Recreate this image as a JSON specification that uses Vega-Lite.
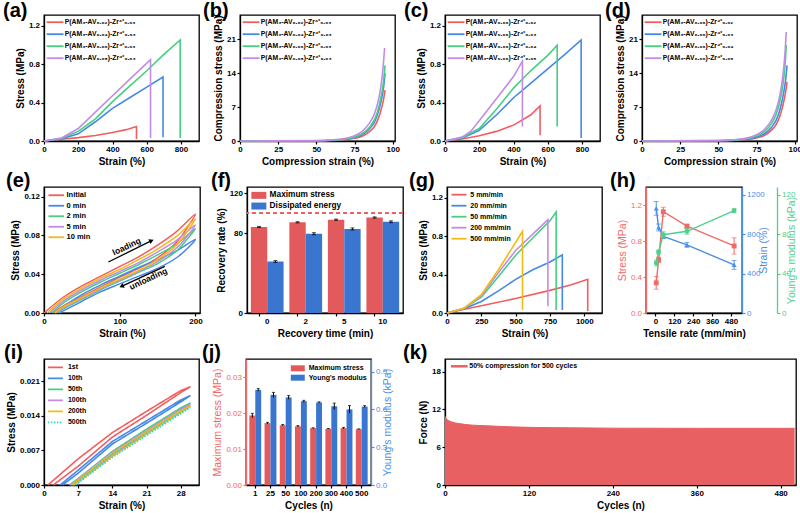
{
"$schema":"https://vega.github.io/schema/vega-lite/v6.json",
"background":"white",
"padding":{"left":2,"top":0,"right":0,"bottom":0},
"autosize":{"type":"pad"},
"bounds":"full",
"spacing":2,
"resolve":{"scale":{"color":"independent","strokeDash":"independent","x":"independent","y":"independent","xOffset":"independent"},"legend":{"color":"independent","strokeDash":"independent"}},
"config":{
 "font":"Liberation Sans",
 "view":{"stroke":"#000","strokeWidth":1.3},
 "axis":{"grid":false,"domainColor":"#000","domainWidth":1.3,"tickColor":"#000","tickWidth":1.2,"tickSize":3,"labelFontSize":8,"labelFontWeight":"bold","labelColor":"#000","labelPadding":1.5,"titleFontSize":10,"titleFontWeight":"bold","titleColor":"#000","titlePadding":3,"labelFlush":false,"labelOverlap":false},
 "legend":{"labelFontWeight":"bold","labelColor":"#000","padding":0,"orient":"none","labelLimit":300,"symbolStrokeWidth":1.8},
 "title":{"fontSize":20,"fontWeight":"bold","anchor":"start","frame":"group","offset":0,"baseline":"alphabetic","dy":8,"color":"#000"}
},
"vconcat":[
{"hconcat":[
{"width":155,"height":126,"title":{"text":"(a)","dx":-41,"dy":10},
 "data":{"values":[
  {"s":"P(AM₃-AV₀.₀₂)-Zr⁴⁺₀.₀₃","x":0,"y":0,"i":0},{"s":"P(AM₃-AV₀.₀₂)-Zr⁴⁺₀.₀₃","x":100,"y":0.018,"i":1},{"s":"P(AM₃-AV₀.₀₂)-Zr⁴⁺₀.₀₃","x":200,"y":0.035,"i":2},{"s":"P(AM₃-AV₀.₀₂)-Zr⁴⁺₀.₀₃","x":300,"y":0.058,"i":3},{"s":"P(AM₃-AV₀.₀₂)-Zr⁴⁺₀.₀₃","x":400,"y":0.088,"i":4},{"s":"P(AM₃-AV₀.₀₂)-Zr⁴⁺₀.₀₃","x":480,"y":0.118,"i":5},{"s":"P(AM₃-AV₀.₀₂)-Zr⁴⁺₀.₀₃","x":540,"y":0.15,"i":6},{"s":"P(AM₃-AV₀.₀₂)-Zr⁴⁺₀.₀₃","x":540,"y":0.02,"i":7},
  {"s":"P(AM₃-AV₀.₀₄)-Zr⁴⁺₀.₀₃","x":0,"y":0,"i":0},{"s":"P(AM₃-AV₀.₀₄)-Zr⁴⁺₀.₀₃","x":100,"y":0.02,"i":1},{"s":"P(AM₃-AV₀.₀₄)-Zr⁴⁺₀.₀₃","x":200,"y":0.075,"i":2},{"s":"P(AM₃-AV₀.₀₄)-Zr⁴⁺₀.₀₃","x":300,"y":0.2,"i":3},{"s":"P(AM₃-AV₀.₀₄)-Zr⁴⁺₀.₀₃","x":400,"y":0.34,"i":4},{"s":"P(AM₃-AV₀.₀₄)-Zr⁴⁺₀.₀₃","x":500,"y":0.45,"i":5},{"s":"P(AM₃-AV₀.₀₄)-Zr⁴⁺₀.₀₃","x":600,"y":0.56,"i":6},{"s":"P(AM₃-AV₀.₀₄)-Zr⁴⁺₀.₀₃","x":695,"y":0.665,"i":7},{"s":"P(AM₃-AV₀.₀₄)-Zr⁴⁺₀.₀₃","x":695,"y":0.04,"i":8},
  {"s":"P(AM₃-AV₀.₀₆)-Zr⁴⁺₀.₀₃","x":0,"y":0,"i":0},{"s":"P(AM₃-AV₀.₀₆)-Zr⁴⁺₀.₀₃","x":100,"y":0.025,"i":1},{"s":"P(AM₃-AV₀.₀₆)-Zr⁴⁺₀.₀₃","x":200,"y":0.1,"i":2},{"s":"P(AM₃-AV₀.₀₆)-Zr⁴⁺₀.₀₃","x":300,"y":0.23,"i":3},{"s":"P(AM₃-AV₀.₀₆)-Zr⁴⁺₀.₀₃","x":400,"y":0.41,"i":4},{"s":"P(AM₃-AV₀.₀₆)-Zr⁴⁺₀.₀₃","x":500,"y":0.57,"i":5},{"s":"P(AM₃-AV₀.₀₆)-Zr⁴⁺₀.₀₃","x":600,"y":0.73,"i":6},{"s":"P(AM₃-AV₀.₀₆)-Zr⁴⁺₀.₀₃","x":700,"y":0.9,"i":7},{"s":"P(AM₃-AV₀.₀₆)-Zr⁴⁺₀.₀₃","x":795,"y":1.05,"i":8},{"s":"P(AM₃-AV₀.₀₆)-Zr⁴⁺₀.₀₃","x":795,"y":0.03,"i":9},
  {"s":"P(AM₃-AV₀.₀₈)-Zr⁴⁺₀.₀₃","x":0,"y":0,"i":0},{"s":"P(AM₃-AV₀.₀₈)-Zr⁴⁺₀.₀₃","x":100,"y":0.03,"i":1},{"s":"P(AM₃-AV₀.₀₈)-Zr⁴⁺₀.₀₃","x":200,"y":0.13,"i":2},{"s":"P(AM₃-AV₀.₀₈)-Zr⁴⁺₀.₀₃","x":300,"y":0.3,"i":3},{"s":"P(AM₃-AV₀.₀₈)-Zr⁴⁺₀.₀₃","x":400,"y":0.47,"i":4},{"s":"P(AM₃-AV₀.₀₈)-Zr⁴⁺₀.₀₃","x":500,"y":0.64,"i":5},{"s":"P(AM₃-AV₀.₀₈)-Zr⁴⁺₀.₀₃","x":622,"y":0.845,"i":6},{"s":"P(AM₃-AV₀.₀₈)-Zr⁴⁺₀.₀₃","x":622,"y":0.03,"i":7}
 ]},
 "mark":{"type":"line","strokeWidth":1.6},
 "encoding":{
  "x":{"field":"x","type":"quantitative","scale":{"domain":[0,905],"nice":false},"axis":{"values":[0,200,400,600,800],"title":"Strain (%)"}},
  "y":{"field":"y","type":"quantitative","scale":{"domain":[0,1.31],"nice":false},"axis":{"values":[0,0.4,0.8,1.2],"format":".1f","title":"Stress (MPa)"}},
  "color":{"field":"s","type":"nominal","scale":{"domain":["P(AM₃-AV₀.₀₂)-Zr⁴⁺₀.₀₃","P(AM₃-AV₀.₀₄)-Zr⁴⁺₀.₀₃","P(AM₃-AV₀.₀₆)-Zr⁴⁺₀.₀₃","P(AM₃-AV₀.₀₈)-Zr⁴⁺₀.₀₃"],"range":["#f25e5e","#4589e6","#45cf80","#c28be8"]},"legend":{"title":null,"legendX":7.7,"legendY":3.8,"labelFontSize":6.8,"symbolType":"M-4.2,0H4.2","symbolSize":16,"labelOffset":6.3,"rowPadding":3}},
  "order":{"field":"i","type":"quantitative"}
 }},
{"width":40.7,"height":126,"view":{"stroke":null},"data":{"values":[{}]},"mark":{"type":"point","opacity":0},"encoding":{}},
{"width":155,"height":126,"title":{"text":"(b)","dx":-37,"dy":10},
 "data":{"values":[
  {"s":"P(AM₃-AV₀.₀₂)-Zr⁴⁺₀.₀₃","x":0,"y":0},{"s":"P(AM₃-AV₀.₀₂)-Zr⁴⁺₀.₀₃","x":50,"y":0.04},{"s":"P(AM₃-AV₀.₀₂)-Zr⁴⁺₀.₀₃","x":60,"y":0.1},{"s":"P(AM₃-AV₀.₀₂)-Zr⁴⁺₀.₀₃","x":70,"y":0.3},{"s":"P(AM₃-AV₀.₀₂)-Zr⁴⁺₀.₀₃","x":75,"y":0.55},{"s":"P(AM₃-AV₀.₀₂)-Zr⁴⁺₀.₀₃","x":80,"y":1.0},{"s":"P(AM₃-AV₀.₀₂)-Zr⁴⁺₀.₀₃","x":85,"y":2.0},{"s":"P(AM₃-AV₀.₀₂)-Zr⁴⁺₀.₀₃","x":88,"y":3.0},{"s":"P(AM₃-AV₀.₀₂)-Zr⁴⁺₀.₀₃","x":90,"y":4.2},{"s":"P(AM₃-AV₀.₀₂)-Zr⁴⁺₀.₀₃","x":92,"y":6.0},{"s":"P(AM₃-AV₀.₀₂)-Zr⁴⁺₀.₀₃","x":94,"y":8.6},{"s":"P(AM₃-AV₀.₀₂)-Zr⁴⁺₀.₀₃","x":95,"y":10.5},
  {"s":"P(AM₃-AV₀.₀₄)-Zr⁴⁺₀.₀₃","x":0,"y":0},{"s":"P(AM₃-AV₀.₀₄)-Zr⁴⁺₀.₀₃","x":50,"y":0.05},{"s":"P(AM₃-AV₀.₀₄)-Zr⁴⁺₀.₀₃","x":60,"y":0.14},{"s":"P(AM₃-AV₀.₀₄)-Zr⁴⁺₀.₀₃","x":70,"y":0.4},{"s":"P(AM₃-AV₀.₀₄)-Zr⁴⁺₀.₀₃","x":75,"y":0.75},{"s":"P(AM₃-AV₀.₀₄)-Zr⁴⁺₀.₀₃","x":80,"y":1.3},{"s":"P(AM₃-AV₀.₀₄)-Zr⁴⁺₀.₀₃","x":85,"y":2.6},{"s":"P(AM₃-AV₀.₀₄)-Zr⁴⁺₀.₀₃","x":88,"y":3.9},{"s":"P(AM₃-AV₀.₀₄)-Zr⁴⁺₀.₀₃","x":90,"y":5.4},{"s":"P(AM₃-AV₀.₀₄)-Zr⁴⁺₀.₀₃","x":92,"y":7.7},{"s":"P(AM₃-AV₀.₀₄)-Zr⁴⁺₀.₀₃","x":94,"y":11},{"s":"P(AM₃-AV₀.₀₄)-Zr⁴⁺₀.₀₃","x":95,"y":14},
  {"s":"P(AM₃-AV₀.₀₆)-Zr⁴⁺₀.₀₃","x":0,"y":0},{"s":"P(AM₃-AV₀.₀₆)-Zr⁴⁺₀.₀₃","x":50,"y":0.06},{"s":"P(AM₃-AV₀.₀₆)-Zr⁴⁺₀.₀₃","x":60,"y":0.16},{"s":"P(AM₃-AV₀.₀₆)-Zr⁴⁺₀.₀₃","x":70,"y":0.45},{"s":"P(AM₃-AV₀.₀₆)-Zr⁴⁺₀.₀₃","x":75,"y":0.85},{"s":"P(AM₃-AV₀.₀₆)-Zr⁴⁺₀.₀₃","x":80,"y":1.5},{"s":"P(AM₃-AV₀.₀₆)-Zr⁴⁺₀.₀₃","x":85,"y":2.9},{"s":"P(AM₃-AV₀.₀₆)-Zr⁴⁺₀.₀₃","x":88,"y":4.4},{"s":"P(AM₃-AV₀.₀₆)-Zr⁴⁺₀.₀₃","x":90,"y":6},{"s":"P(AM₃-AV₀.₀₆)-Zr⁴⁺₀.₀₃","x":92,"y":8.6},{"s":"P(AM₃-AV₀.₀₆)-Zr⁴⁺₀.₀₃","x":94,"y":12.3},{"s":"P(AM₃-AV₀.₀₆)-Zr⁴⁺₀.₀₃","x":95,"y":15.6},
  {"s":"P(AM₃-AV₀.₀₈)-Zr⁴⁺₀.₀₃","x":0,"y":0},{"s":"P(AM₃-AV₀.₀₈)-Zr⁴⁺₀.₀₃","x":50,"y":0.08},{"s":"P(AM₃-AV₀.₀₈)-Zr⁴⁺₀.₀₃","x":60,"y":0.22},{"s":"P(AM₃-AV₀.₀₈)-Zr⁴⁺₀.₀₃","x":70,"y":0.6},{"s":"P(AM₃-AV₀.₀₈)-Zr⁴⁺₀.₀₃","x":75,"y":1.1},{"s":"P(AM₃-AV₀.₀₈)-Zr⁴⁺₀.₀₃","x":80,"y":2.0},{"s":"P(AM₃-AV₀.₀₈)-Zr⁴⁺₀.₀₃","x":85,"y":3.8},{"s":"P(AM₃-AV₀.₀₈)-Zr⁴⁺₀.₀₃","x":88,"y":5.6},{"s":"P(AM₃-AV₀.₀₈)-Zr⁴⁺₀.₀₃","x":90,"y":7.6},{"s":"P(AM₃-AV₀.₀₈)-Zr⁴⁺₀.₀₃","x":92,"y":10.7},{"s":"P(AM₃-AV₀.₀₈)-Zr⁴⁺₀.₀₃","x":93.5,"y":14.5},{"s":"P(AM₃-AV₀.₀₈)-Zr⁴⁺₀.₀₃","x":94.7,"y":19.2}
 ]},
 "mark":{"type":"line","strokeWidth":1.6,"interpolate":"monotone"},
 "encoding":{
  "x":{"field":"x","type":"quantitative","scale":{"domain":[0,101.5],"nice":false},"axis":{"values":[0,25,50,75,100],"title":"Compression strain (%)"}},
  "y":{"field":"y","type":"quantitative","scale":{"domain":[0,26],"nice":false},"axis":{"values":[0,7,14,21],"title":"Compression stress (MPa)"}},
  "color":{"field":"s","type":"nominal","scale":{"domain":["P(AM₃-AV₀.₀₂)-Zr⁴⁺₀.₀₃","P(AM₃-AV₀.₀₄)-Zr⁴⁺₀.₀₃","P(AM₃-AV₀.₀₆)-Zr⁴⁺₀.₀₃","P(AM₃-AV₀.₀₈)-Zr⁴⁺₀.₀₃"],"range":["#f25e5e","#4589e6","#45cf80","#c28be8"]},"legend":{"title":null,"legendX":7.7,"legendY":3.8,"labelFontSize":6.8,"symbolType":"M-4.2,0H4.2","symbolSize":16,"labelOffset":6.3,"rowPadding":3}}
 }},
{"width":49.3,"height":126,"view":{"stroke":null},"data":{"values":[{}]},"mark":{"type":"point","opacity":0},"encoding":{}},
{"width":155,"height":126,"title":{"text":"(c)","dx":-41,"dy":10},
 "data":{"values":[
  {"s":"P(AM₃-AV₀.₀₆)-Zr⁴⁺₀.₀₂","x":0,"y":0,"i":0},{"s":"P(AM₃-AV₀.₀₆)-Zr⁴⁺₀.₀₂","x":100,"y":0.02,"i":1},{"s":"P(AM₃-AV₀.₀₆)-Zr⁴⁺₀.₀₂","x":200,"y":0.055,"i":2},{"s":"P(AM₃-AV₀.₀₆)-Zr⁴⁺₀.₀₂","x":300,"y":0.1,"i":3},{"s":"P(AM₃-AV₀.₀₆)-Zr⁴⁺₀.₀₂","x":400,"y":0.165,"i":4},{"s":"P(AM₃-AV₀.₀₆)-Zr⁴⁺₀.₀₂","x":500,"y":0.27,"i":5},{"s":"P(AM₃-AV₀.₀₆)-Zr⁴⁺₀.₀₂","x":555,"y":0.365,"i":6},{"s":"P(AM₃-AV₀.₀₆)-Zr⁴⁺₀.₀₂","x":555,"y":0.06,"i":7},
  {"s":"P(AM₃-AV₀.₀₆)-Zr⁴⁺₀.₀₃","x":0,"y":0,"i":0},{"s":"P(AM₃-AV₀.₀₆)-Zr⁴⁺₀.₀₃","x":100,"y":0.03,"i":1},{"s":"P(AM₃-AV₀.₀₆)-Zr⁴⁺₀.₀₃","x":200,"y":0.11,"i":2},{"s":"P(AM₃-AV₀.₀₆)-Zr⁴⁺₀.₀₃","x":300,"y":0.27,"i":3},{"s":"P(AM₃-AV₀.₀₆)-Zr⁴⁺₀.₀₃","x":400,"y":0.45,"i":4},{"s":"P(AM₃-AV₀.₀₆)-Zr⁴⁺₀.₀₃","x":500,"y":0.6,"i":5},{"s":"P(AM₃-AV₀.₀₆)-Zr⁴⁺₀.₀₃","x":600,"y":0.75,"i":6},{"s":"P(AM₃-AV₀.₀₆)-Zr⁴⁺₀.₀₃","x":700,"y":0.9,"i":7},{"s":"P(AM₃-AV₀.₀₆)-Zr⁴⁺₀.₀₃","x":795,"y":1.05,"i":8},{"s":"P(AM₃-AV₀.₀₆)-Zr⁴⁺₀.₀₃","x":795,"y":0.03,"i":9},
  {"s":"P(AM₃-AV₀.₀₆)-Zr⁴⁺₀.₀₄","x":0,"y":0,"i":0},{"s":"P(AM₃-AV₀.₀₆)-Zr⁴⁺₀.₀₄","x":100,"y":0.035,"i":1},{"s":"P(AM₃-AV₀.₀₆)-Zr⁴⁺₀.₀₄","x":200,"y":0.13,"i":2},{"s":"P(AM₃-AV₀.₀₆)-Zr⁴⁺₀.₀₄","x":300,"y":0.33,"i":3},{"s":"P(AM₃-AV₀.₀₆)-Zr⁴⁺₀.₀₄","x":400,"y":0.55,"i":4},{"s":"P(AM₃-AV₀.₀₆)-Zr⁴⁺₀.₀₄","x":500,"y":0.73,"i":5},{"s":"P(AM₃-AV₀.₀₆)-Zr⁴⁺₀.₀₄","x":600,"y":0.89,"i":6},{"s":"P(AM₃-AV₀.₀₆)-Zr⁴⁺₀.₀₄","x":655,"y":0.995,"i":7},{"s":"P(AM₃-AV₀.₀₆)-Zr⁴⁺₀.₀₄","x":655,"y":0.15,"i":8},
  {"s":"P(AM₃-AV₀.₀₆)-Zr⁴⁺₀.₀₅","x":0,"y":0,"i":0},{"s":"P(AM₃-AV₀.₀₆)-Zr⁴⁺₀.₀₅","x":100,"y":0.04,"i":1},{"s":"P(AM₃-AV₀.₀₆)-Zr⁴⁺₀.₀₅","x":150,"y":0.1,"i":2},{"s":"P(AM₃-AV₀.₀₆)-Zr⁴⁺₀.₀₅","x":200,"y":0.21,"i":3},{"s":"P(AM₃-AV₀.₀₆)-Zr⁴⁺₀.₀₅","x":300,"y":0.44,"i":4},{"s":"P(AM₃-AV₀.₀₆)-Zr⁴⁺₀.₀₅","x":400,"y":0.67,"i":5},{"s":"P(AM₃-AV₀.₀₆)-Zr⁴⁺₀.₀₅","x":452,"y":0.83,"i":6},{"s":"P(AM₃-AV₀.₀₆)-Zr⁴⁺₀.₀₅","x":452,"y":0.15,"i":7}
 ]},
 "mark":{"type":"line","strokeWidth":1.6},
 "encoding":{
  "x":{"field":"x","type":"quantitative","scale":{"domain":[0,905],"nice":false},"axis":{"values":[0,200,400,600,800],"title":"Strain (%)"}},
  "y":{"field":"y","type":"quantitative","scale":{"domain":[0,1.31],"nice":false},"axis":{"values":[0,0.4,0.8,1.2],"format":".1f","title":"Stress (MPa)"}},
  "color":{"field":"s","type":"nominal","scale":{"domain":["P(AM₃-AV₀.₀₆)-Zr⁴⁺₀.₀₂","P(AM₃-AV₀.₀₆)-Zr⁴⁺₀.₀₃","P(AM₃-AV₀.₀₆)-Zr⁴⁺₀.₀₄","P(AM₃-AV₀.₀₆)-Zr⁴⁺₀.₀₅"],"range":["#f25e5e","#4589e6","#45cf80","#c28be8"]},"legend":{"title":null,"legendX":7.7,"legendY":3.8,"labelFontSize":6.8,"symbolType":"M-4.2,0H4.2","symbolSize":16,"labelOffset":6.3,"rowPadding":3}},
  "order":{"field":"i","type":"quantitative"}
 }},
{"width":41.7,"height":126,"view":{"stroke":null},"data":{"values":[{}]},"mark":{"type":"point","opacity":0},"encoding":{}},
{"width":155,"height":126,"title":{"text":"(d)","dx":-37,"dy":10},
 "data":{"values":[
  {"s":"P(AM₃-AV₀.₀₆)-Zr⁴⁺₀.₀₂","x":0,"y":0},{"s":"P(AM₃-AV₀.₀₆)-Zr⁴⁺₀.₀₂","x":50,"y":0.04},{"s":"P(AM₃-AV₀.₀₆)-Zr⁴⁺₀.₀₂","x":60,"y":0.12},{"s":"P(AM₃-AV₀.₀₆)-Zr⁴⁺₀.₀₂","x":70,"y":0.35},{"s":"P(AM₃-AV₀.₀₆)-Zr⁴⁺₀.₀₂","x":75,"y":0.65},{"s":"P(AM₃-AV₀.₀₆)-Zr⁴⁺₀.₀₂","x":80,"y":1.15},{"s":"P(AM₃-AV₀.₀₆)-Zr⁴⁺₀.₀₂","x":85,"y":2.3},{"s":"P(AM₃-AV₀.₀₆)-Zr⁴⁺₀.₀₂","x":88,"y":3.5},{"s":"P(AM₃-AV₀.₀₆)-Zr⁴⁺₀.₀₂","x":90,"y":4.9},{"s":"P(AM₃-AV₀.₀₆)-Zr⁴⁺₀.₀₂","x":92,"y":7},{"s":"P(AM₃-AV₀.₀₆)-Zr⁴⁺₀.₀₂","x":94,"y":10},{"s":"P(AM₃-AV₀.₀₆)-Zr⁴⁺₀.₀₂","x":95,"y":12.2},
  {"s":"P(AM₃-AV₀.₀₆)-Zr⁴⁺₀.₀₃","x":0,"y":0},{"s":"P(AM₃-AV₀.₀₆)-Zr⁴⁺₀.₀₃","x":50,"y":0.05},{"s":"P(AM₃-AV₀.₀₆)-Zr⁴⁺₀.₀₃","x":60,"y":0.15},{"s":"P(AM₃-AV₀.₀₆)-Zr⁴⁺₀.₀₃","x":70,"y":0.45},{"s":"P(AM₃-AV₀.₀₆)-Zr⁴⁺₀.₀₃","x":75,"y":0.8},{"s":"P(AM₃-AV₀.₀₆)-Zr⁴⁺₀.₀₃","x":80,"y":1.45},{"s":"P(AM₃-AV₀.₀₆)-Zr⁴⁺₀.₀₃","x":85,"y":2.9},{"s":"P(AM₃-AV₀.₀₆)-Zr⁴⁺₀.₀₃","x":88,"y":4.4},{"s":"P(AM₃-AV₀.₀₆)-Zr⁴⁺₀.₀₃","x":90,"y":6.1},{"s":"P(AM₃-AV₀.₀₆)-Zr⁴⁺₀.₀₃","x":92,"y":8.7},{"s":"P(AM₃-AV₀.₀₆)-Zr⁴⁺₀.₀₃","x":94,"y":12.5},{"s":"P(AM₃-AV₀.₀₆)-Zr⁴⁺₀.₀₃","x":95,"y":15.6},
  {"s":"P(AM₃-AV₀.₀₆)-Zr⁴⁺₀.₀₄","x":0,"y":0},{"s":"P(AM₃-AV₀.₀₆)-Zr⁴⁺₀.₀₄","x":50,"y":0.07},{"s":"P(AM₃-AV₀.₀₆)-Zr⁴⁺₀.₀₄","x":60,"y":0.2},{"s":"P(AM₃-AV₀.₀₆)-Zr⁴⁺₀.₀₄","x":70,"y":0.58},{"s":"P(AM₃-AV₀.₀₆)-Zr⁴⁺₀.₀₄","x":75,"y":1.05},{"s":"P(AM₃-AV₀.₀₆)-Zr⁴⁺₀.₀₄","x":80,"y":1.9},{"s":"P(AM₃-AV₀.₀₆)-Zr⁴⁺₀.₀₄","x":85,"y":3.7},{"s":"P(AM₃-AV₀.₀₆)-Zr⁴⁺₀.₀₄","x":88,"y":5.6},{"s":"P(AM₃-AV₀.₀₆)-Zr⁴⁺₀.₀₄","x":90,"y":7.8},{"s":"P(AM₃-AV₀.₀₆)-Zr⁴⁺₀.₀₄","x":92,"y":11},{"s":"P(AM₃-AV₀.₀₆)-Zr⁴⁺₀.₀₄","x":93.5,"y":15},{"s":"P(AM₃-AV₀.₀₆)-Zr⁴⁺₀.₀₄","x":94.5,"y":19.8},
  {"s":"P(AM₃-AV₀.₀₆)-Zr⁴⁺₀.₀₅","x":0,"y":0},{"s":"P(AM₃-AV₀.₀₆)-Zr⁴⁺₀.₀₅","x":50,"y":0.09},{"s":"P(AM₃-AV₀.₀₆)-Zr⁴⁺₀.₀₅","x":60,"y":0.25},{"s":"P(AM₃-AV₀.₀₆)-Zr⁴⁺₀.₀₅","x":70,"y":0.7},{"s":"P(AM₃-AV₀.₀₆)-Zr⁴⁺₀.₀₅","x":75,"y":1.3},{"s":"P(AM₃-AV₀.₀₆)-Zr⁴⁺₀.₀₅","x":80,"y":2.3},{"s":"P(AM₃-AV₀.₀₆)-Zr⁴⁺₀.₀₅","x":85,"y":4.4},{"s":"P(AM₃-AV₀.₀₆)-Zr⁴⁺₀.₀₅","x":88,"y":6.6},{"s":"P(AM₃-AV₀.₀₆)-Zr⁴⁺₀.₀₅","x":90,"y":9},{"s":"P(AM₃-AV₀.₀₆)-Zr⁴⁺₀.₀₅","x":92,"y":12.8},{"s":"P(AM₃-AV₀.₀₆)-Zr⁴⁺₀.₀₅","x":93.5,"y":17.5},{"s":"P(AM₃-AV₀.₀₆)-Zr⁴⁺₀.₀₅","x":94.5,"y":22.5}
 ]},
 "mark":{"type":"line","strokeWidth":1.6,"interpolate":"monotone"},
 "encoding":{
  "x":{"field":"x","type":"quantitative","scale":{"domain":[0,101.5],"nice":false},"axis":{"values":[0,25,50,75,100],"title":"Compression strain (%)"}},
  "y":{"field":"y","type":"quantitative","scale":{"domain":[0,26],"nice":false},"axis":{"values":[0,7,14,21],"title":"Compression stress (MPa)"}},
  "color":{"field":"s","type":"nominal","scale":{"domain":["P(AM₃-AV₀.₀₆)-Zr⁴⁺₀.₀₂","P(AM₃-AV₀.₀₆)-Zr⁴⁺₀.₀₃","P(AM₃-AV₀.₀₆)-Zr⁴⁺₀.₀₄","P(AM₃-AV₀.₀₆)-Zr⁴⁺₀.₀₅"],"range":["#f25e5e","#4589e6","#45cf80","#c28be8"]},"legend":{"title":null,"legendX":7.7,"legendY":3.8,"labelFontSize":6.8,"symbolType":"M-4.2,0H4.2","symbolSize":16,"labelOffset":6.3,"rowPadding":3}}
 }}
],"spacing":0,"bounds":"flush","resolve":{"scale":{"color":"independent","x":"independent","y":"independent"},"legend":{"color":"independent"}}},
{"hconcat":[
{"width":156,"height":126,"title":{"text":"(e)","dx":-38},
 "layer":[
 {"data":{"values":[
  {"s":"Initial","x":0,"y":0,"i":0},{"s":"Initial","x":25,"y":0.016,"i":1},{"s":"Initial","x":50,"y":0.028,"i":2},{"s":"Initial","x":75,"y":0.038,"i":3},{"s":"Initial","x":100,"y":0.048,"i":4},{"s":"Initial","x":125,"y":0.058,"i":5},{"s":"Initial","x":150,"y":0.07,"i":6},{"s":"Initial","x":175,"y":0.084,"i":7},{"s":"Initial","x":200,"y":0.102,"i":8},{"s":"Initial","x":190,"y":0.089,"i":9},{"s":"Initial","x":175,"y":0.073,"i":10},{"s":"Initial","x":150,"y":0.057,"i":11},{"s":"Initial","x":125,"y":0.046,"i":12},{"s":"Initial","x":100,"y":0.037,"i":13},{"s":"Initial","x":75,"y":0.027,"i":14},{"s":"Initial","x":50,"y":0.017,"i":15},{"s":"Initial","x":25,"y":0.007,"i":16},{"s":"Initial","x":12,"y":0,"i":17},
  {"s":"0 min","x":15,"y":0,"i":0},{"s":"0 min","x":30,"y":0.009,"i":1},{"s":"0 min","x":50,"y":0.019,"i":2},{"s":"0 min","x":75,"y":0.029,"i":3},{"s":"0 min","x":100,"y":0.038,"i":4},{"s":"0 min","x":125,"y":0.047,"i":5},{"s":"0 min","x":150,"y":0.055,"i":6},{"s":"0 min","x":175,"y":0.064,"i":7},{"s":"0 min","x":200,"y":0.076,"i":8},{"s":"0 min","x":190,"y":0.067,"i":9},{"s":"0 min","x":175,"y":0.057,"i":10},{"s":"0 min","x":150,"y":0.046,"i":11},{"s":"0 min","x":125,"y":0.038,"i":12},{"s":"0 min","x":100,"y":0.03,"i":13},{"s":"0 min","x":75,"y":0.022,"i":14},{"s":"0 min","x":50,"y":0.012,"i":15},{"s":"0 min","x":30,"y":0.004,"i":16},{"s":"0 min","x":20,"y":0,"i":17},
  {"s":"2 min","x":10,"y":0,"i":0},{"s":"2 min","x":25,"y":0.01,"i":1},{"s":"2 min","x":50,"y":0.022,"i":2},{"s":"2 min","x":75,"y":0.032,"i":3},{"s":"2 min","x":100,"y":0.041,"i":4},{"s":"2 min","x":125,"y":0.05,"i":5},{"s":"2 min","x":150,"y":0.06,"i":6},{"s":"2 min","x":175,"y":0.071,"i":7},{"s":"2 min","x":200,"y":0.087,"i":8},{"s":"2 min","x":190,"y":0.077,"i":9},{"s":"2 min","x":175,"y":0.064,"i":10},{"s":"2 min","x":150,"y":0.051,"i":11},{"s":"2 min","x":125,"y":0.042,"i":12},{"s":"2 min","x":100,"y":0.033,"i":13},{"s":"2 min","x":75,"y":0.024,"i":14},{"s":"2 min","x":50,"y":0.014,"i":15},{"s":"2 min","x":25,"y":0.004,"i":16},{"s":"2 min","x":17,"y":0,"i":17},
  {"s":"5 min","x":7,"y":0,"i":0},{"s":"5 min","x":25,"y":0.012,"i":1},{"s":"5 min","x":50,"y":0.024,"i":2},{"s":"5 min","x":75,"y":0.034,"i":3},{"s":"5 min","x":100,"y":0.043,"i":4},{"s":"5 min","x":125,"y":0.052,"i":5},{"s":"5 min","x":150,"y":0.063,"i":6},{"s":"5 min","x":175,"y":0.075,"i":7},{"s":"5 min","x":200,"y":0.091,"i":8},{"s":"5 min","x":190,"y":0.08,"i":9},{"s":"5 min","x":175,"y":0.067,"i":10},{"s":"5 min","x":150,"y":0.053,"i":11},{"s":"5 min","x":125,"y":0.043,"i":12},{"s":"5 min","x":100,"y":0.034,"i":13},{"s":"5 min","x":75,"y":0.025,"i":14},{"s":"5 min","x":50,"y":0.015,"i":15},{"s":"5 min","x":25,"y":0.005,"i":16},{"s":"5 min","x":15,"y":0,"i":17},
  {"s":"10 min","x":4,"y":0,"i":0},{"s":"10 min","x":25,"y":0.014,"i":1},{"s":"10 min","x":50,"y":0.026,"i":2},{"s":"10 min","x":75,"y":0.036,"i":3},{"s":"10 min","x":100,"y":0.045,"i":4},{"s":"10 min","x":125,"y":0.055,"i":5},{"s":"10 min","x":150,"y":0.066,"i":6},{"s":"10 min","x":175,"y":0.079,"i":7},{"s":"10 min","x":200,"y":0.097,"i":8},{"s":"10 min","x":190,"y":0.085,"i":9},{"s":"10 min","x":175,"y":0.07,"i":10},{"s":"10 min","x":150,"y":0.055,"i":11},{"s":"10 min","x":125,"y":0.044,"i":12},{"s":"10 min","x":100,"y":0.035,"i":13},{"s":"10 min","x":75,"y":0.026,"i":14},{"s":"10 min","x":50,"y":0.016,"i":15},{"s":"10 min","x":25,"y":0.006,"i":16},{"s":"10 min","x":14,"y":0,"i":17}
 ]},
 "mark":{"type":"line","strokeWidth":1.5,"interpolate":"catmull-rom"},
 "encoding":{
  "x":{"field":"x","type":"quantitative","scale":{"domain":[0,206],"nice":false},"axis":{"values":[0,50,100,150,200],"title":"Strain (%)"}},
  "y":{"field":"y","type":"quantitative","scale":{"domain":[0,0.13],"nice":false},"axis":{"values":[0,0.04,0.08,0.12],"format":".2f","title":"Stress (MPa)"}},
  "color":{"field":"s","type":"nominal","scale":{"domain":["Initial","0 min","2 min","5 min","10 min"],"range":["#f25e5e","#4589e6","#45cf80","#c28be8","#f5b914"]},"legend":{"title":null,"legendX":8.5,"legendY":4.5,"labelFontSize":7.5,"symbolType":"M-3.9,0H3.9","symbolSize":16,"labelOffset":6.5,"rowPadding":1.5}},
  "order":{"field":"i","type":"quantitative"}
 }},
 {"data":{"values":[{"x":85,"y":0.0526,"x2":142,"y2":0.0746},{"x":159.6,"y":0.0481,"x2":102.4,"y2":0.0275}]},
  "mark":{"type":"rule","color":"#000","strokeWidth":1.3},
  "encoding":{"x":{"field":"x","type":"quantitative"},"y":{"field":"y","type":"quantitative"},"x2":{"field":"x2"},"y2":{"field":"y2"}}},
 {"data":{"values":[{"x":142,"y":0.0746,"sh":"triangle-right"},{"x":102.4,"y":0.0275,"sh":"triangle-left"}]},
  "mark":{"type":"point","filled":true,"color":"#000","size":28,"angle":335,"opacity":1},
  "encoding":{"x":{"field":"x","type":"quantitative"},"y":{"field":"y","type":"quantitative"},"shape":{"field":"sh","type":"nominal","scale":null}}},
 {"data":{"values":[{"x":109,"y":0.0688,"t":"loading"},{"x":137.6,"y":0.0355,"t":"unloading"}]},
  "mark":{"type":"text","angle":335,"fontSize":8.5,"fontWeight":"bold","color":"#000"},
  "encoding":{"x":{"field":"x","type":"quantitative"},"y":{"field":"y","type":"quantitative"},"text":{"field":"t"}}}
 ]},
{"width":46.3,"height":126,"view":{"stroke":null},"data":{"values":[{}]},"mark":{"type":"point","opacity":0},"encoding":{}},
{"width":156,"height":126,"title":{"text":"(f)","dx":-36},
 "data":{"values":[
  {"t":"0","s":"Maximum stress","v":86,"lo":85.4,"hi":86.6},{"t":"2","s":"Maximum stress","v":90.7,"lo":90.1,"hi":91.3},{"t":"5","s":"Maximum stress","v":93.3,"lo":92.7,"hi":93.9},{"t":"10","s":"Maximum stress","v":95.5,"lo":94.9,"hi":96.1},
  {"t":"0","s":"Dissipated energy","v":51.5,"lo":50.6,"hi":52.4},{"t":"2","s":"Dissipated energy","v":79.3,"lo":78.3,"hi":80.3},{"t":"5","s":"Dissipated energy","v":84,"lo":83,"hi":85.1},{"t":"10","s":"Dissipated energy","v":91.2,"lo":90.3,"hi":92.1}
 ]},
 "layer":[
  {"mark":{"type":"bar"},"encoding":{
    "x":{"field":"t","type":"nominal","sort":["0","2","5","10"],"scale":{"paddingInner":0.15,"paddingOuter":0.1},"axis":{"labelAngle":0,"title":"Recovery time (min)","bandPosition":0.25}},
    "xOffset":{"field":"s","type":"nominal","scale":{"domain":["Maximum stress","Dissipated energy"]}},
    "y":{"field":"v","type":"quantitative","scale":{"domain":[0,126],"nice":false},"axis":{"values":[0,40,80,100,120],"title":"Recovery rate (%)","labelColor":{"condition":{"test":"datum.value===100","value":"#f06060"},"value":"#000"},"tickColor":{"condition":{"test":"datum.value===100","value":"#f06060"},"value":"#000"}}},
    "color":{"field":"s","type":"nominal","scale":{"domain":["Maximum stress","Dissipated energy"],"range":["#e25a5c","#3a76cf"]},"legend":{"title":null,"legendX":7.7,"legendY":4.2,"labelFontSize":8.3,"symbolType":"M-2.14,-1H2.14V1H-2.14Z","symbolSize":49,"symbolStrokeWidth":0,"labelOffset":6.6,"rowPadding":1.7}}}},
  {"mark":{"type":"rule","strokeWidth":1,"color":"#000"},"encoding":{
    "x":{"field":"t","type":"nominal","sort":["0","2","5","10"]},
    "xOffset":{"field":"s","type":"nominal","scale":{"domain":["Maximum stress","Dissipated energy"]}},
    "y":{"field":"lo","type":"quantitative"},"y2":{"field":"hi"}}},
  {"mark":{"type":"tick","thickness":1,"size":4,"color":"#000"},"encoding":{
    "x":{"field":"t","type":"nominal","sort":["0","2","5","10"]},
    "xOffset":{"field":"s","type":"nominal","scale":{"domain":["Maximum stress","Dissipated energy"]}},
    "y":{"field":"hi","type":"quantitative"}}},
  {"mark":{"type":"tick","thickness":1,"size":4,"color":"#000"},"encoding":{
    "x":{"field":"t","type":"nominal","sort":["0","2","5","10"]},
    "xOffset":{"field":"s","type":"nominal","scale":{"domain":["Maximum stress","Dissipated energy"]}},
    "y":{"field":"lo","type":"quantitative"}}},
  {"mark":{"type":"rule","color":"#f06060","strokeDash":[4,3],"strokeWidth":1.3},"encoding":{"y":{"datum":100}}}
 ]},
{"width":43.7,"height":126,"view":{"stroke":null},"data":{"values":[{}]},"mark":{"type":"point","opacity":0},"encoding":{}},
{"width":155,"height":126,"title":{"text":"(g)","dx":-38},
 "data":{"values":[
  {"s":"5 mm/min","x":0,"y":0,"i":0},{"s":"5 mm/min","x":250,"y":0.075,"i":1},{"s":"5 mm/min","x":500,"y":0.15,"i":2},{"s":"5 mm/min","x":750,"y":0.235,"i":3},{"s":"5 mm/min","x":900,"y":0.29,"i":4},{"s":"5 mm/min","x":1025,"y":0.35,"i":5},{"s":"5 mm/min","x":1025,"y":0.02,"i":6},
  {"s":"20 mm/min","x":0,"y":0,"i":0},{"s":"20 mm/min","x":125,"y":0.045,"i":1},{"s":"20 mm/min","x":250,"y":0.12,"i":2},{"s":"20 mm/min","x":375,"y":0.23,"i":3},{"s":"20 mm/min","x":500,"y":0.35,"i":4},{"s":"20 mm/min","x":625,"y":0.45,"i":5},{"s":"20 mm/min","x":750,"y":0.53,"i":6},{"s":"20 mm/min","x":840,"y":0.605,"i":7},{"s":"20 mm/min","x":840,"y":0.03,"i":8},
  {"s":"50 mm/min","x":0,"y":0,"i":0},{"s":"50 mm/min","x":125,"y":0.05,"i":1},{"s":"50 mm/min","x":250,"y":0.165,"i":2},{"s":"50 mm/min","x":375,"y":0.38,"i":3},{"s":"50 mm/min","x":500,"y":0.6,"i":4},{"s":"50 mm/min","x":625,"y":0.78,"i":5},{"s":"50 mm/min","x":750,"y":0.96,"i":6},{"s":"50 mm/min","x":795,"y":1.05,"i":7},{"s":"50 mm/min","x":795,"y":0.03,"i":8},
  {"s":"200 mm/min","x":0,"y":0,"i":0},{"s":"200 mm/min","x":125,"y":0.05,"i":1},{"s":"200 mm/min","x":250,"y":0.18,"i":2},{"s":"200 mm/min","x":375,"y":0.42,"i":3},{"s":"200 mm/min","x":500,"y":0.65,"i":4},{"s":"200 mm/min","x":625,"y":0.82,"i":5},{"s":"200 mm/min","x":735,"y":0.97,"i":6},{"s":"200 mm/min","x":735,"y":0.07,"i":7},
  {"s":"500 mm/min","x":0,"y":0,"i":0},{"s":"500 mm/min","x":125,"y":0.05,"i":1},{"s":"500 mm/min","x":250,"y":0.19,"i":2},{"s":"500 mm/min","x":375,"y":0.45,"i":3},{"s":"500 mm/min","x":450,"y":0.62,"i":4},{"s":"500 mm/min","x":550,"y":0.85,"i":5},{"s":"500 mm/min","x":550,"y":0.03,"i":6}
 ]},
 "mark":{"type":"line","strokeWidth":1.6},
 "encoding":{
  "x":{"field":"x","type":"quantitative","scale":{"domain":[0,1129],"nice":false},"axis":{"values":[0,250,500,750,1000],"format":"d","title":"Strain (%)"}},
  "y":{"field":"y","type":"quantitative","scale":{"domain":[0,1.31],"nice":false},"axis":{"values":[0,0.4,0.8,1.2],"format":".1f","title":"Stress (MPa)"}},
  "color":{"field":"s","type":"nominal","scale":{"domain":["5 mm/min","20 mm/min","50 mm/min","200 mm/min","500 mm/min"],"range":["#f25e5e","#4589e6","#45cf80","#c28be8","#f5b914"]},"legend":{"title":null,"legendX":8.5,"legendY":4.2,"labelFontSize":7,"symbolType":"M-3.75,0H3.75","symbolSize":16,"labelOffset":7.8,"rowPadding":2}},
  "order":{"field":"i","type":"quantitative"}
 }},
{"width":43.3,"height":126,"view":{"stroke":null},"data":{"values":[{}]},"mark":{"type":"point","opacity":0},"encoding":{}},
{"width":96,"height":126,"title":{"text":"(h)","dx":-36},
 "data":{"values":[
  {"r":5,"st":0.335,"ste":0.07,"sn":1063,"sne":70,"ym":50.8,"yme":3},
  {"r":20,"st":0.59,"ste":0.03,"sn":869,"sne":35,"ym":62,"yme":2},
  {"r":50,"st":1.125,"ste":0.05,"sn":777,"sne":20,"ym":79.5,"yme":3},
  {"r":200,"st":0.965,"ste":0.02,"sn":692,"sne":25,"ym":83,"yme":3},
  {"r":500,"st":0.745,"ste":0.09,"sn":488,"sne":45,"ym":104,"yme":2}
 ]},
 "encoding":{"x":{"field":"r","type":"quantitative","scale":{"domain":[-60,550],"nice":false},"axis":{"values":[0,120,240,360,480],"title":"Tensile rate (mm/min)"}}},
 "layer":[
  {"encoding":{"y":{"field":"st","type":"quantitative","scale":{"domain":[0,1.4],"nice":false},"axis":{"orient":"left","values":[0,0.4,0.8,1.2],"format":".1f","title":"Stress (MPa)","domainColor":"#f06a6a","tickColor":"#f06a6a","labelColor":"#f06a6a","titleColor":"#f06a6a","labelFontWeight":"normal","titleFontWeight":"normal","titleFontSize":10.5}}},
   "layer":[
    {"mark":{"type":"line","color":"#f06a6a","strokeWidth":1.4}},
    {"mark":{"type":"errorbar","color":"#f06a6a","ticks":true},"encoding":{"yError":{"field":"ste"}}},
    {"mark":{"type":"point","shape":"square","filled":true,"color":"#f06a6a","size":24,"opacity":1}}
   ]},
  {"encoding":{"y":{"field":"sn","type":"quantitative","scale":{"domain":[0,1280],"nice":false},"axis":{"orient":"right","values":[0,400,800,1200],"format":"d","title":"Strain (%)","titleAngle":270,"titlePadding":4,"domainColor":"#4a8fe6","tickColor":"#4a8fe6","labelColor":"#4a8fe6","titleColor":"#4a8fe6","labelFontWeight":"normal","titleFontWeight":"normal","titleFontSize":10.5}}},
   "layer":[
    {"mark":{"type":"line","color":"#4a8fe6","strokeWidth":1.4}},
    {"mark":{"type":"errorbar","color":"#4a8fe6","ticks":true},"encoding":{"yError":{"field":"sne"}}},
    {"mark":{"type":"point","shape":"triangle-up","filled":true,"color":"#4a8fe6","size":24,"opacity":1}}
   ]},
  {"encoding":{"y":{"field":"ym","type":"quantitative","scale":{"domain":[0,128],"nice":false},"axis":{"orient":"right","offset":35,"values":[0,40,80,120],"title":"Young's modulus (kPa)","titleAngle":270,"titlePadding":2,"domainColor":"#4fd08a","tickColor":"#4fd08a","labelColor":"#4fd08a","titleColor":"#4fd08a","labelFontWeight":"normal","titleFontWeight":"normal","titleFontSize":10.5}}},
   "layer":[
    {"mark":{"type":"line","color":"#4fd08a","strokeWidth":1.4}},
    {"mark":{"type":"errorbar","color":"#4fd08a","ticks":true},"encoding":{"yError":{"field":"yme"}}},
    {"mark":{"type":"point","shape":"circle","filled":true,"color":"#4fd08a","size":24,"opacity":1}}
   ]}
 ],
 "resolve":{"scale":{"y":"independent"}}}
],"spacing":0,"bounds":"flush","resolve":{"scale":{"color":"independent","x":"independent","y":"independent","xOffset":"independent"},"legend":{"color":"independent"}}},
{"hconcat":[
{"width":155,"height":126,"title":{"text":"(i)","dx":-40},
 "data":{"values":[
  {"s":"1st","x":1.9,"y":0,"i":0},{"s":"1st","x":7,"y":0.0038,"i":1},{"s":"1st","x":14,"y":0.0097,"i":2},{"s":"1st","x":21,"y":0.0141,"i":3},{"s":"1st","x":28,"y":0.0187,"i":4},{"s":"1st","x":30,"y":0.0199,"i":5},{"s":"1st","x":28,"y":0.0191,"i":6},{"s":"1st","x":21,"y":0.0149,"i":7},{"s":"1st","x":14,"y":0.0106,"i":8},{"s":"1st","x":7,"y":0.0053,"i":9},{"s":"1st","x":0.8,"y":0,"i":10},
  {"s":"10th","x":3.8,"y":0,"i":0},{"s":"10th","x":7,"y":0.0024,"i":1},{"s":"10th","x":14,"y":0.0083,"i":2},{"s":"10th","x":21,"y":0.0125,"i":3},{"s":"10th","x":28,"y":0.0168,"i":4},{"s":"10th","x":30,"y":0.0181,"i":5},{"s":"10th","x":28,"y":0.0172,"i":6},{"s":"10th","x":21,"y":0.013,"i":7},{"s":"10th","x":14,"y":0.0088,"i":8},{"s":"10th","x":7,"y":0.003,"i":9},{"s":"10th","x":3.3,"y":0,"i":10},
  {"s":"50th","x":5.8,"y":0,"i":0},{"s":"50th","x":7,"y":0.0008,"i":1},{"s":"50th","x":14,"y":0.0062,"i":2},{"s":"50th","x":21,"y":0.0107,"i":3},{"s":"50th","x":28,"y":0.0152,"i":4},{"s":"50th","x":30,"y":0.0166,"i":5},{"s":"50th","x":28,"y":0.0156,"i":6},{"s":"50th","x":21,"y":0.0113,"i":7},{"s":"50th","x":14,"y":0.0068,"i":8},{"s":"50th","x":7,"y":0.0013,"i":9},{"s":"50th","x":5.2,"y":0,"i":10},
  {"s":"100th","x":6.0,"y":0,"i":0},{"s":"100th","x":7,"y":0.0007,"i":1},{"s":"100th","x":14,"y":0.006,"i":2},{"s":"100th","x":21,"y":0.0105,"i":3},{"s":"100th","x":28,"y":0.015,"i":4},{"s":"100th","x":30,"y":0.0163,"i":5},{"s":"100th","x":28,"y":0.0153,"i":6},{"s":"100th","x":21,"y":0.011,"i":7},{"s":"100th","x":14,"y":0.0066,"i":8},{"s":"100th","x":7,"y":0.0012,"i":9},{"s":"100th","x":5.4,"y":0,"i":10},
  {"s":"200th","x":6.2,"y":0,"i":0},{"s":"200th","x":7,"y":0.0006,"i":1},{"s":"200th","x":14,"y":0.0058,"i":2},{"s":"200th","x":21,"y":0.0103,"i":3},{"s":"200th","x":28,"y":0.0147,"i":4},{"s":"200th","x":30,"y":0.016,"i":5},{"s":"200th","x":28,"y":0.015,"i":6},{"s":"200th","x":21,"y":0.0108,"i":7},{"s":"200th","x":14,"y":0.0064,"i":8},{"s":"200th","x":7,"y":0.001,"i":9},{"s":"200th","x":5.6,"y":0,"i":10},
  {"s":"500th","x":6.5,"y":0,"i":0},{"s":"500th","x":7,"y":0.0004,"i":1},{"s":"500th","x":14,"y":0.0056,"i":2},{"s":"500th","x":21,"y":0.01,"i":3},{"s":"500th","x":28,"y":0.0144,"i":4},{"s":"500th","x":30,"y":0.0157,"i":5},{"s":"500th","x":28,"y":0.0147,"i":6},{"s":"500th","x":21,"y":0.0105,"i":7},{"s":"500th","x":14,"y":0.0062,"i":8},{"s":"500th","x":7,"y":0.0008,"i":9},{"s":"500th","x":5.9,"y":0,"i":10}
 ]},
 "mark":{"type":"line","strokeWidth":1.6},
 "encoding":{
  "x":{"field":"x","type":"quantitative","scale":{"domain":[0,31.75],"nice":false},"axis":{"values":[0,7,14,21,28],"title":"Strain (%)"}},
  "y":{"field":"y","type":"quantitative","scale":{"domain":[0,0.0255],"nice":false},"axis":{"values":[0,0.007,0.014,0.021],"format":".3f","title":"Stress (MPa)"}},
  "color":{"field":"s","type":"nominal","scale":{"domain":["1st","10th","50th","100th","200th","500th"],"range":["#f25e5e","#4589e6","#45cf80","#c28be8","#f5b914","#2fd5d0"]},"legend":{"title":null,"legendX":7.9,"legendY":4.8,"labelFontSize":7,"symbolType":"M-3.75,0H3.75","symbolSize":16,"labelOffset":9,"rowPadding":2}},
  "strokeDash":{"field":"s","type":"nominal","scale":{"domain":["1st","10th","50th","100th","200th","500th"],"range":[[1,0],[1,0],[1,0],[1,0],[1,0],[1.5,1.5]]},"legend":{"title":null,"legendX":7.9,"legendY":4.8,"labelFontSize":7,"symbolType":"M-3.75,0H3.75","symbolSize":16,"labelOffset":9,"rowPadding":2}},
  "order":{"field":"i","type":"quantitative"}
 }},
{"width":46.7,"height":126,"view":{"stroke":null},"data":{"values":[{}]},"mark":{"type":"point","opacity":0},"encoding":{}},
{"width":125,"height":126,"title":{"text":"(j)","dx":-44},
 "encoding":{
  "x":{"field":"c","type":"nominal","sort":["1","25","50","100","200","300","400","500"],"scale":{"paddingInner":0.22,"paddingOuter":0.22},"axis":{"labelAngle":0,"title":"Cycles (n)"}},
  "xOffset":{"field":"s","type":"nominal","scale":{"domain":["Maximum stress","Young's modulus"]}},
  "color":{"field":"s","type":"nominal","scale":{"domain":["Maximum stress","Young's modulus"],"range":["#e25a5c","#3a76cf"]},"legend":{"title":null,"legendX":48.3,"legendY":5.8,"labelFontSize":7,"symbolType":"M-2.33,-1H2.33V1H-2.33Z","symbolSize":36,"symbolStrokeWidth":0,"labelOffset":7.4,"rowPadding":1.4}}
 },
 "layer":[
  {"data":{"values":[
    {"c":"1","s":"Maximum stress","v":0.0193,"lo":0.0187,"hi":0.0199},{"c":"25","s":"Maximum stress","v":0.0172,"lo":0.017,"hi":0.0174},{"c":"50","s":"Maximum stress","v":0.0166,"lo":0.0164,"hi":0.0168},{"c":"100","s":"Maximum stress","v":0.0163,"lo":0.0161,"hi":0.0165},{"c":"200","s":"Maximum stress","v":0.0158,"lo":0.0157,"hi":0.0159},{"c":"300","s":"Maximum stress","v":0.0156,"lo":0.0155,"hi":0.0157},{"c":"400","s":"Maximum stress","v":0.0158,"lo":0.0156,"hi":0.016},{"c":"500","s":"Maximum stress","v":0.0155,"lo":0.0154,"hi":0.0156}
   ]},
   "encoding":{"y":{"field":"v","type":"quantitative","scale":{"domain":[0,0.035],"nice":false},"axis":{"orient":"left","values":[0,0.01,0.02,0.03],"format":".2f","title":"Maximum stress (MPa)","domainColor":"#f06a6a","tickColor":"#f06a6a","labelColor":"#f06a6a","titleColor":"#f06a6a","labelFontWeight":"normal","titleFontWeight":"normal","titleFontSize":10.5}}},
   "layer":[
    {"mark":{"type":"bar"}},
    {"mark":{"type":"rule","strokeWidth":1},"encoding":{"y":{"field":"lo","type":"quantitative"},"y2":{"field":"hi"},"color":{"value":"#000"}}},
    {"mark":{"type":"tick","thickness":1,"size":3},"encoding":{"y":{"field":"hi","type":"quantitative"},"color":{"value":"#000"}}}
   ]},
  {"data":{"values":[
    {"c":"1","s":"Young's modulus","v":0.755,"lo":0.745,"hi":0.765},{"c":"25","s":"Young's modulus","v":0.715,"lo":0.695,"hi":0.735},{"c":"50","s":"Young's modulus","v":0.695,"lo":0.68,"hi":0.71},{"c":"100","s":"Young's modulus","v":0.665,"lo":0.655,"hi":0.672},{"c":"200","s":"Young's modulus","v":0.655,"lo":0.65,"hi":0.66},{"c":"300","s":"Young's modulus","v":0.625,"lo":0.6,"hi":0.65},{"c":"400","s":"Young's modulus","v":0.6,"lo":0.57,"hi":0.63},{"c":"500","s":"Young's modulus","v":0.622,"lo":0.615,"hi":0.63}
   ]},
   "encoding":{"y":{"field":"v","type":"quantitative","scale":{"domain":[0,1.0],"nice":false},"axis":{"orient":"right","values":[0,0.3,0.6,0.9],"format":".1f","title":"Young's modulus (kPa)","titleAngle":270,"titlePadding":6,"domainColor":"#4a8fe6","tickColor":"#4a8fe6","labelColor":"#4a8fe6","titleColor":"#4a8fe6","labelFontWeight":"normal","titleFontWeight":"normal","titleFontSize":10.5}}},
   "layer":[
    {"mark":{"type":"bar"}},
    {"mark":{"type":"rule","strokeWidth":1},"encoding":{"y":{"field":"lo","type":"quantitative"},"y2":{"field":"hi"},"color":{"value":"#000"}}},
    {"mark":{"type":"tick","thickness":1,"size":3},"encoding":{"y":{"field":"hi","type":"quantitative"},"color":{"value":"#000"}}}
   ]}
 ],
 "resolve":{"scale":{"y":"independent"}}},
{"width":74,"height":126,"view":{"stroke":null},"data":{"values":[{}]},"mark":{"type":"point","opacity":0},"encoding":{}},
{"width":351,"height":126,"title":{"text":"(k)","dx":-42},
 "data":{"values":[
  {"n":0,"f":10.9},{"n":2,"f":10.5},{"n":5,"f":10.25},{"n":10,"f":10.0},{"n":20,"f":9.75},{"n":40,"f":9.5},{"n":60,"f":9.4},{"n":90,"f":9.25},{"n":120,"f":9.15},{"n":180,"f":9.08},{"n":240,"f":9.02},{"n":360,"f":9.0},{"n":480,"f":9.0},{"n":500,"f":9.0}
 ]},
 "encoding":{
  "x":{"field":"n","type":"quantitative","scale":{"domain":[0,502],"nice":false},"axis":{"values":[0,120,240,360,480],"title":"Cycles (n)"}},
  "y":{"field":"f","type":"quantitative","scale":{"domain":[0,20],"nice":false},"axis":{"values":[0,6,12,18],"title":"Force (N)"}}
 },
 "layer":[
  {"mark":{"type":"area","color":"#e96062","opacity":1,"interpolate":"monotone"}},
  {"mark":{"type":"line","strokeWidth":1,"interpolate":"monotone"},"encoding":{"color":{"datum":"50% compression for 500 cycles","type":"nominal","scale":{"range":["#e96062"]},"legend":{"title":null,"legendX":10.8,"legendY":3.8,"labelFontSize":7,"symbolType":"M-4.17,0H4.17","symbolSize":16,"symbolStrokeWidth":2.5,"labelOffset":6.5}}}}
 ]}
],"spacing":0,"bounds":"flush","resolve":{"scale":{"color":"independent","strokeDash":"independent","x":"independent","y":"independent","xOffset":"independent"},"legend":{"color":"independent","strokeDash":"independent"}}}
]
}
